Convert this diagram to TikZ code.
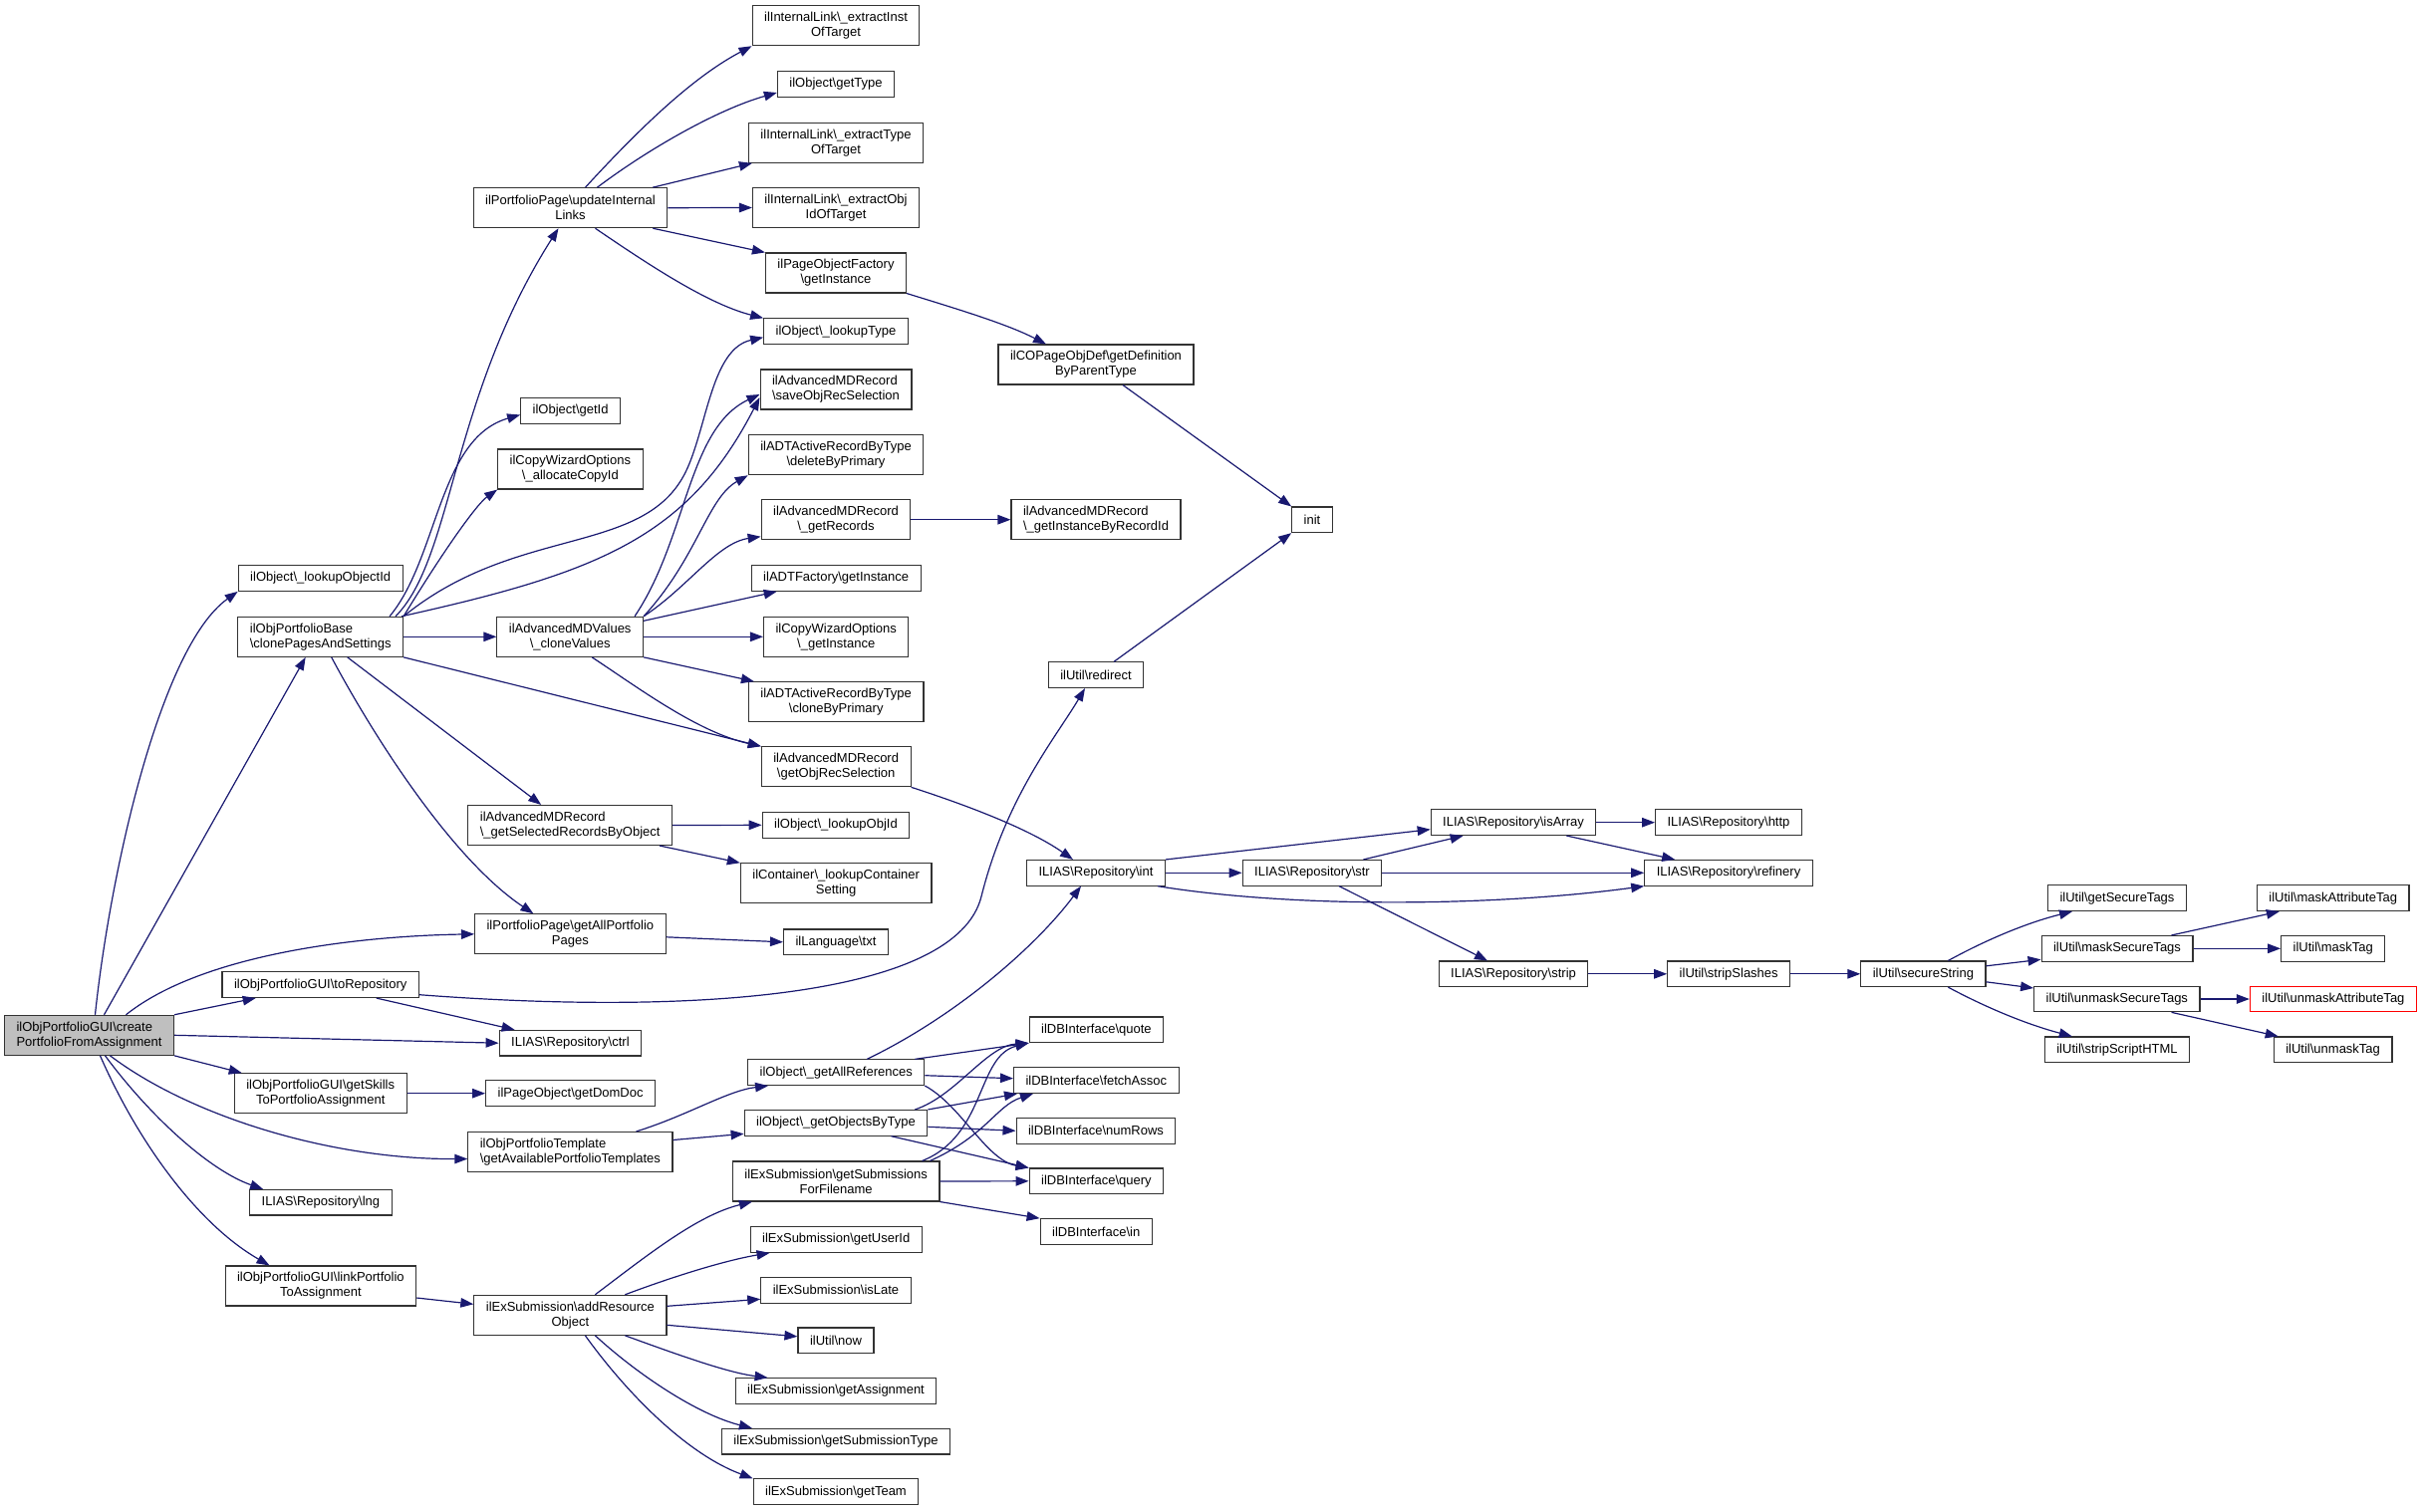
\documentclass[tikz,border=0pt]{standalone}
\usepackage{fontspec}
\setmainfont{Liberation Sans}
\usetikzlibrary{arrows.meta}
\definecolor{midnight}{RGB}{25,25,112}
\definecolor{rootgrey}{RGB}{191,191,191}
\newcommand{\bs}{\textbackslash}

\begin{document}
\begin{tikzpicture}[x=1pt, y=-1pt,
    fn/.style={draw=black!80, line width=1.1pt, fill=white, inner xsep=12pt, inner ysep=3pt,
        minimum height=25.6pt, align=center, font=\fontsize{13}{15}\selectfont},
    two/.style={minimum height=40pt},
    call/.style={draw=midnight, line width=1.2pt, -{Triangle[length=13pt, width=9.5pt]}}]
    \useasboundingbox (0,0) rectangle (2432,1517);

    % the function the graph is drawn for
    \node[fn, two, fill=rootgrey, align=left] (root) at (89.5,1039.3) {ilObjPortfolioGUI\bs create\\PortfolioFromAssignment};

    % first level
    \node[fn] (lookupObjectId) at (321.7,580.5) {ilObject\bs\_lookupObjectId};
    \node[fn, two, align=left] (clonePages) at (321.7,639.3) {ilObjPortfolioBase\\\bs clonePagesAndSettings};
    \node[fn] (toRepo) at (321.7,988.7) {ilObjPortfolioGUI\bs toRepository};
    \node[fn, two] (getSkills) at (321.7,1097.7) {ilObjPortfolioGUI\bs getSkills\\ToPortfolioAssignment};
    \node[fn] (repoLng) at (321.9,1207.2) {ILIAS\bs Repository\bs lng};
    \node[fn, two] (linkPortfolio) at (321.9,1291) {ilObjPortfolioGUI\bs linkPortfolio\\ToAssignment};

    % second level
    \node[fn, two] (updateLinks) at (572.5,208.7) {ilPortfolioPage\bs updateInternal\\Links};
    \node[fn] (getId) at (572.6,412.5) {ilObject\bs getId};
    \node[fn, two] (allocCopyId) at (572.4,471) {ilCopyWizardOptions\\\bs\_allocateCopyId};
    \node[fn, two] (cloneValues) at (572.2,639.3) {ilAdvancedMDValues\\\bs\_cloneValues};
    \node[fn, two, align=left] (selRecords) at (572.2,828.5) {ilAdvancedMDRecord\\\bs\_getSelectedRecordsByObject};
    \node[fn, two] (allPages) at (572.4,937.8) {ilPortfolioPage\bs getAllPortfolio\\Pages};
    \node[fn] (repoCtrl) at (572.4,1047.2) {ILIAS\bs Repository\bs ctrl};
    \node[fn] (getDomDoc) at (572.6,1097.7) {ilPageObject\bs getDomDoc};
    \node[fn, two, align=left] (availTemplates) at (572.4,1156.5) {ilObjPortfolioTemplate\\\bs getAvailablePortfolioTemplates};
    \node[fn, two] (addResource) at (572.4,1320.3) {ilExSubmission\bs addResource\\Object};

    % third level
    \node[fn, two] (extractInst) at (839,25.7) {ilInternalLink\bs\_extractInst\\OfTarget};
    \node[fn] (getType) at (839,84.5) {ilObject\bs getType};
    \node[fn, two] (extractType) at (839,143.3) {ilInternalLink\bs\_extractType\\OfTarget};
    \node[fn, two] (extractObjId) at (839,208.5) {ilInternalLink\bs\_extractObj\\IdOfTarget};
    \node[fn, two] (pageFactory) at (839,274) {ilPageObjectFactory\\\bs getInstance};
    \node[fn] (lookupType) at (839,332.7) {ilObject\bs\_lookupType};
    \node[fn, two, align=left] (saveRec) at (839,391) {ilAdvancedMDRecord\\\bs saveObjRecSelection};
    \node[fn, two] (deleteByPrimary) at (839,456.7) {ilADTActiveRecordByType\\\bs deleteByPrimary};
    \node[fn, two] (getRecords) at (839,521.7) {ilAdvancedMDRecord\\\bs\_getRecords};
    \node[fn] (adtFactory) at (839.2,580.5) {ilADTFactory\bs getInstance};
    \node[fn, two] (copyInstance) at (839.2,639.3) {ilCopyWizardOptions\\\bs\_getInstance};
    \node[fn, two] (cloneByPrimary) at (839.2,704.7) {ilADTActiveRecordByType\\\bs cloneByPrimary};
    \node[fn, two] (getRecSel) at (839.2,769.8) {ilAdvancedMDRecord\\\bs getObjRecSelection};
    \node[fn] (lookupObjId) at (839,828.3) {ilObject\bs\_lookupObjId};
    \node[fn, two] (lookupSetting) at (839.2,886.8) {ilContainer\bs\_lookupContainer\\Setting};
    \node[fn] (langTxt) at (839,945.8) {ilLanguage\bs txt};
    \node[fn] (allRefs) at (839.2,1076.7) {ilObject\bs\_getAllReferences};
    \node[fn] (objByType) at (839,1127.3) {ilObject\bs\_getObjectsByType};
    \node[fn, two] (subsFilename) at (839.2,1186) {ilExSubmission\bs getSubmissions\\ForFilename};
    \node[fn] (getUserId) at (839.2,1244.5) {ilExSubmission\bs getUserId};
    \node[fn] (isLate) at (839,1295.3) {ilExSubmission\bs isLate};
    \node[fn] (utilNow) at (839,1345.8) {ilUtil\bs now};
    \node[fn] (getAssignment) at (839,1396.5) {ilExSubmission\bs getAssignment};
    \node[fn] (getSubType) at (839,1447.2) {ilExSubmission\bs getSubmissionType};
    \node[fn] (getTeam) at (839,1497.7) {ilExSubmission\bs getTeam};

    % fourth level
    \node[fn, two] (getDef) at (1100,366) {ilCOPageObjDef\bs getDefinition\\ByParentType};
    \node[fn, two, align=left] (instByRecord) at (1100,521.7) {ilAdvancedMDRecord\\\bs\_getInstanceByRecordId};
    \node[fn] (redirect) at (1100,677.7) {ilUtil\bs redirect};
    \node[fn] (repoInt) at (1100,876.3) {ILIAS\bs Repository\bs int};
    \node[fn] (dbQuote) at (1100.4,1033.8) {ilDBInterface\bs quote};
    \node[fn] (dbFetch) at (1100.3,1084.7) {ilDBInterface\bs fetchAssoc};
    \node[fn] (dbNumRows) at (1100,1135.3) {ilDBInterface\bs numRows};
    \node[fn] (dbQuery) at (1100.4,1185.8) {ilDBInterface\bs query};
    \node[fn] (dbIn) at (1100.2,1236.5) {ilDBInterface\bs in};

    % deeper levels
    \node[fn] (init) at (1317,521.8) {init};
    \node[fn] (repoStr) at (1317,876.3) {ILIAS\bs Repository\bs str};
    \node[fn] (isArray) at (1519,825.7) {ILIAS\bs Repository\bs isArray};
    \node[fn] (repoStrip) at (1519,977.8) {ILIAS\bs Repository\bs strip};
    \node[fn] (http) at (1735,825.7) {ILIAS\bs Repository\bs http};
    \node[fn] (refinery) at (1735,876.3) {ILIAS\bs Repository\bs refinery};
    \node[fn] (stripSlashes) at (1735.2,977.8) {ilUtil\bs stripSlashes};
    \node[fn] (secureString) at (1930.4,977.8) {ilUtil\bs secureString};
    \node[fn] (getSecureTags) at (2125,901.7) {ilUtil\bs getSecureTags};
    \node[fn] (maskSecure) at (2125,952.3) {ilUtil\bs maskSecureTags};
    \node[fn] (unmaskSecure) at (2124.8,1003) {ilUtil\bs unmaskSecureTags};
    \node[fn] (stripHTML) at (2125,1053.8) {ilUtil\bs stripScriptHTML};
    \node[fn] (maskAttr) at (2341.7,901.7) {ilUtil\bs maskAttributeTag};
    \node[fn] (maskTag) at (2341.7,952.3) {ilUtil\bs maskTag};
    \node[fn, draw=red] (unmaskAttr) at (2341.9,1003) {ilUtil\bs unmaskAttributeTag};
    \node[fn] (unmaskTag) at (2341.6,1053.8) {ilUtil\bs unmaskTag};

    % calls of the root
    \draw[call] ([xshift=6pt]root.north) .. controls (110,880) and (160,650) .. (lookupObjectId.south west);
    \draw[call] ([xshift=15pt]root.north) -- ([xshift=-15pt]clonePages.south);
    \draw[call] ([xshift=37pt]root.north) .. controls (200,960) and (350,940) .. (allPages.west);
    \draw[call] (root.north east) -- ([xshift=-65pt]toRepo.south);
    \draw[call] (root.east) -- (repoCtrl.west);
    \draw[call] (root.south east) -- ([xshift=8pt]getSkills.north west);
    \draw[call] ([xshift=21pt]root.south) .. controls (190,1120) and (330,1164) .. ([yshift=-7pt]availTemplates.west);
    \draw[call] ([xshift=16pt]root.south) .. controls (150,1120) and (210,1175) .. ([xshift=14pt]repoLng.north west);
    \draw[call] ([xshift=11pt]root.south) .. controls (140,1150) and (200,1230) .. ([xshift=45pt]linkPortfolio.north west);

    % toRepository
    \draw[call] ([xshift=56pt]toRepo.south) -- ([xshift=16pt]repoCtrl.north west);
    \draw[call] ([yshift=-10pt]toRepo.east) .. controls (700,1020) and (960,1000) .. (985,900)
        .. controls (1010,800) and (1060,740) .. ([xshift=-11pt]redirect.south);

    % clonePagesAndSettings
    \draw[call] ([xshift=-8pt]clonePages.north east) .. controls (455,560) and (452,400) .. ([xshift=-12pt]updateLinks.south);
    \draw[call] ([xshift=-14pt]clonePages.north east) .. controls (440,560) and (440,440) .. ([yshift=-4pt]getId.west);
    \draw[call] (clonePages.north east) .. controls (450,545) and (480,505) .. (allocCopyId.south west);
    \draw[call] (clonePages.north east) .. controls (520,525) and (650,560) .. (690,470)
        .. controls (710,425) and (715,350) .. ([yshift=-6pt]lookupType.west);
    \draw[call] ([xshift=-2pt]clonePages.north east) .. controls (600,575) and (690,540) .. ([yshift=-8pt]saveRec.west);
    \draw[call] (clonePages.east) -- (cloneValues.west);
    \draw[call] (clonePages.south east) -- (getRecSel.north west);
    \draw[call] ([xshift=27pt]clonePages.south) -- ([xshift=-29pt]selRecords.north);
    \draw[call] ([xshift=11pt]clonePages.south) .. controls (370,730) and (450,860) .. ([xshift=-37pt]allPages.north);

    % updateInternalLinks
    \draw[call] ([xshift=15pt]updateLinks.north) .. controls (650,120) and (700,75) .. (extractInst.south west);
    \draw[call] ([xshift=27pt]updateLinks.north) .. controls (650,150) and (720,110) .. ([yshift=-8.5pt]getType.west);
    \draw[call] ([xshift=-15pt]updateLinks.north east) -- ([xshift=4pt]extractType.south west);
    \draw[call] (updateLinks.east) -- (extractObjId.west);
    \draw[call] ([xshift=-15pt]updateLinks.south east) -- (pageFactory.north west);
    \draw[call] ([xshift=25pt]updateLinks.south) .. controls (650,265) and (710,305) .. (lookupType.north west);
    \draw[call] (pageFactory.south east) .. controls (960,310) and (1010,325) .. ([xshift=-50pt]getDef.north);
    \draw[call] ([xshift=27pt]getDef.south) -- (init.north west);
    \draw[call] ([xshift=18pt]redirect.north) -- (init.south west);

    % _cloneValues
    \draw[call] ([xshift=-9pt]cloneValues.north east) .. controls (690,540) and (690,430) .. ([yshift=-5pt]saveRec.west);
    \draw[call] (cloneValues.north east) .. controls (700,560) and (710,500) .. (deleteByPrimary.south west);
    \draw[call] (cloneValues.north east) .. controls (690,590) and (720,545) .. ([yshift=-17pt]getRecords.west);
    \draw[call] ([yshift=16pt]cloneValues.east) -- ([xshift=26pt]adtFactory.south west);
    \draw[call] (cloneValues.east) -- (copyInstance.west);
    \draw[call] (cloneValues.south east) -- ([xshift=6pt]cloneByPrimary.north west);
    \draw[call] ([xshift=22pt]cloneValues.south) .. controls (640,690) and (700,735) .. (getRecSel.north west);
    \draw[call] (getRecords.east) -- (instByRecord.west);

    % other second level calls
    \draw[call] (selRecords.east) -- (lookupObjId.west);
    \draw[call] ([xshift=-13pt]selRecords.south east) -- (lookupSetting.north west);
    \draw[call] ([yshift=-3pt]allPages.east) -- (langTxt.west);
    \draw[call] (getSkills.east) -- (getDomDoc.west);
    \draw[call] ([yshift=-12pt]linkPortfolio.east) -- ([yshift=11pt]addResource.west);
    \draw[call] (getRecSel.south east) .. controls (960,805) and (1030,830) .. ([xshift=-23pt]repoInt.north);

    % templates and objects
    \draw[call] ([xshift=-37pt]availTemplates.north east) .. controls (690,1120) and (730,1095) .. ([xshift=21pt]allRefs.south west);
    \draw[call] ([yshift=12pt]availTemplates.east) -- ([yshift=-11pt]objByType.west);
    \draw[call] ([xshift=31pt]allRefs.north) .. controls (960,1020) and (1040,950) .. ([xshift=-15pt]repoInt.south);
    \draw[call] ([xshift=-10pt]allRefs.north east) -- (dbQuote.south west);
    \draw[call] ([yshift=-3pt]allRefs.east) -- ([yshift=2pt]dbFetch.west);
    \draw[call] (allRefs.south east) .. controls (965,1110) and (990,1165) .. (dbQuery.north west);
    \draw[call] ([xshift=-13pt]objByType.north east) .. controls (960,1100) and (990,1050) .. (dbQuote.south west);
    \draw[call] (objByType.north east) -- ([xshift=4pt]dbFetch.south west);
    \draw[call] ([yshift=-4pt]objByType.east) -- (dbNumRows.west);
    \draw[call] ([xshift=-37pt]objByType.south east) -- (dbQuery.north west);

    % submissions
    \draw[call] ([xshift=-18pt]subsFilename.north east) .. controls (990,1140) and (980,1060) .. (dbQuote.south west);
    \draw[call] ([xshift=-10pt]subsFilename.north east) .. controls (990,1140) and (1000,1110) .. ([xshift=20pt]dbFetch.south west);
    \draw[call] (subsFilename.east) -- (dbQuery.west);
    \draw[call] (subsFilename.south east) -- (dbIn.north west);
    \draw[call] ([xshift=25pt]addResource.north) .. controls (650,1260) and (700,1220) .. ([xshift=20pt]subsFilename.south west);
    \draw[call] ([xshift=55pt]addResource.north) .. controls (680,1280) and (730,1265) .. ([xshift=20pt]getUserId.south west);
    \draw[call] ([yshift=9pt]addResource.east) -- ([yshift=-9pt]isLate.west);
    \draw[call] ([yshift=-10pt]addResource.east) -- ([yshift=4pt]utilNow.west);
    \draw[call] ([xshift=55pt]addResource.south) .. controls (680,1360) and (730,1378) .. ([xshift=33pt]getAssignment.north west);
    \draw[call] ([xshift=25pt]addResource.south) .. controls (640,1380) and (700,1420) .. ([xshift=31pt]getSubType.north west);
    \draw[call] ([xshift=15pt]addResource.south) .. controls (630,1400) and (690,1460) .. (getTeam.north west);

    % repository helpers
    \draw[call] (repoInt.north east) -- ([yshift=-7pt]isArray.west);
    \draw[call] (repoInt.east) -- (repoStr.west);
    \draw[call] ([xshift=-8pt]repoInt.south east) .. controls (1300,912) and (1500,910) .. (refinery.south west);
    \draw[call] ([xshift=-19pt]repoStr.north east) -- ([xshift=33pt]isArray.south west);
    \draw[call] (repoStr.east) -- (refinery.west);
    \draw[call] ([xshift=27pt]repoStr.south) -- ([xshift=-26pt]repoStrip.north);
    \draw[call] (isArray.east) -- (http.west);
    \draw[call] ([xshift=-30pt]isArray.south east) -- ([xshift=31pt]refinery.north west);
    \draw[call] (repoStrip.east) -- (stripSlashes.west);
    \draw[call] (stripSlashes.east) -- (secureString.west);

    % secureString
    \draw[call] ([xshift=25pt]secureString.north) .. controls (2000,940) and (2040,925) .. ([xshift=25pt]getSecureTags.south west);
    \draw[call] ([yshift=8pt]secureString.east) -- ([yshift=-11pt]maskSecure.west);
    \draw[call] ([yshift=-8pt]secureString.east) -- ([yshift=11pt]unmaskSecure.west);
    \draw[call] ([xshift=25pt]secureString.south) .. controls (2000,1015) and (2040,1030) .. ([xshift=28pt]stripHTML.north west);
    \draw[call] ([xshift=-22pt]maskSecure.north east) -- ([xshift=23pt]maskAttr.south west);
    \draw[call] (maskSecure.east) -- (maskTag.west);
    \draw[call] (unmaskSecure.east) -- (unmaskAttr.west);
    \draw[call] ([xshift=-29pt]unmaskSecure.south east) -- ([xshift=5pt]unmaskTag.north west);
\end{tikzpicture}
\end{document}
